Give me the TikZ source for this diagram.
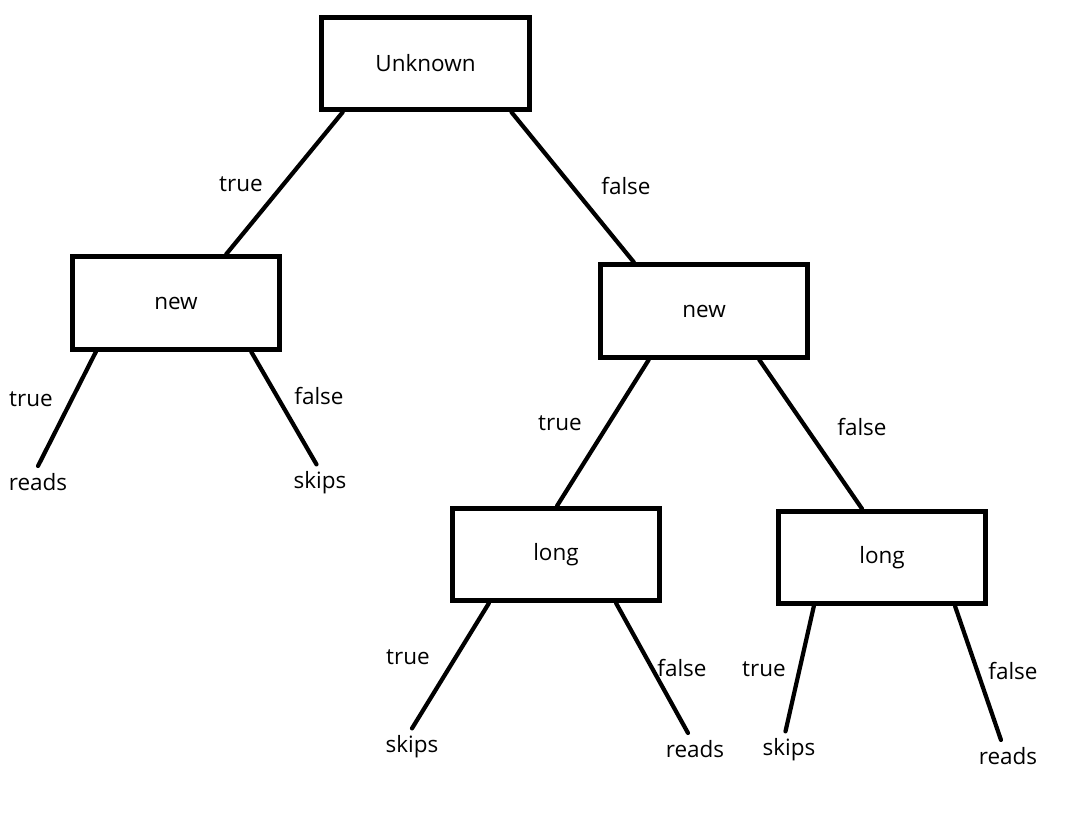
\documentclass[tikz,border=0pt]{standalone}
\usepackage{fontspec}
\setmainfont{Open Sans}
\usetikzlibrary{calc}

\tikzset{
    decision/.style={draw, line width=2.8pt, minimum width=4.15cm, minimum height=1.85cm, inner sep=0pt, font=\fontsize{12.8}{15}\selectfont},
    leaf/.style={inner xsep=1pt, inner ysep=4pt, font=\fontsize{12.8}{15}\selectfont},
    branchlabel/.style={inner sep=1pt, font=\fontsize{12.8}{15}\selectfont},
    branch/.style={line width=2.4pt, line cap=round},
}

\begin{document}
\begin{tikzpicture}[x=0.02cm, y=-0.02cm]
    \useasboundingbox (0,0) rectangle (1065,839);

    % Decision boxes
    \node[decision] (unknown) at (425.5,63.5) {Unknown};
    \node[decision] (newA) at (176,303) {new};
    \node[decision] (newB) at (704,311) {new};
    \node[decision] (longA) at (556,554.5) {long};
    \node[decision] (longB) at (882,557.5) {long};

    % Leaves
    \node[leaf] (readsA) at (38,482) {reads};
    \node[leaf] (skipsA) at (320,483) {skips};
    \node[leaf] (skipsB) at (412,747) {skips};
    \node[leaf] (readsB) at (695,749) {reads};
    \node[leaf] (skipsC) at (789,750) {skips};
    \node[leaf] (readsC) at (1008,756) {reads};

    % Branch labels
    \node[branchlabel] (tA) at (241,184) {true};
    \node[branchlabel] (fA) at (626,186) {false};
    \node[branchlabel] (tB) at (31,399) {true};
    \node[branchlabel] (fB) at (319,396) {false};
    \node[branchlabel] (tC) at (560,423) {true};
    \node[branchlabel] (fC) at (862,427) {false};
    \node[branchlabel] (tD) at (408,657) {true};
    \node[branchlabel] (fD) at (682,668) {false};
    \node[branchlabel] (tE) at (764,669) {true};
    \node[branchlabel] (fE) at (1013,671) {false};

    % Branches
    \draw[branch] ($(unknown.south west)!0.11!(unknown.south east)$) -- ($(newA.north west)!0.736!(newA.north east)$);
    \draw[branch] ($(unknown.south west)!0.905!(unknown.south east)$) -- ($(newB.north west)!0.17!(newB.north east)$);
    \draw[branch] ($(newA.south west)!0.123!(newA.south east)$) -- (readsA.north);
    \draw[branch] ($(newA.south west)!0.854!(newA.south east)$) -- ([xshift=-2pt]skipsA.north);
    \draw[branch] ($(newB.south west)!0.24!(newB.south east)$) -- ($(longA.north west)!0.505!(longA.north east)$);
    \draw[branch] ($(newB.south west)!0.76!(newB.south east)$) -- ($(longB.north west)!0.406!(longB.north east)$);
    \draw[branch] ($(longA.south west)!0.184!(longA.south east)$) -- (skipsB.north);
    \draw[branch] ($(longA.south west)!0.783!(longA.south east)$) -- ([xshift=-4pt]readsB.north);
    \draw[branch] ($(longB.south west)!0.179!(longB.south east)$) -- ([xshift=-2pt]skipsC.north);
    \draw[branch] ($(longB.south west)!0.844!(longB.south east)$) -- ([xshift=-4pt]readsC.north);
\end{tikzpicture}
\end{document}
